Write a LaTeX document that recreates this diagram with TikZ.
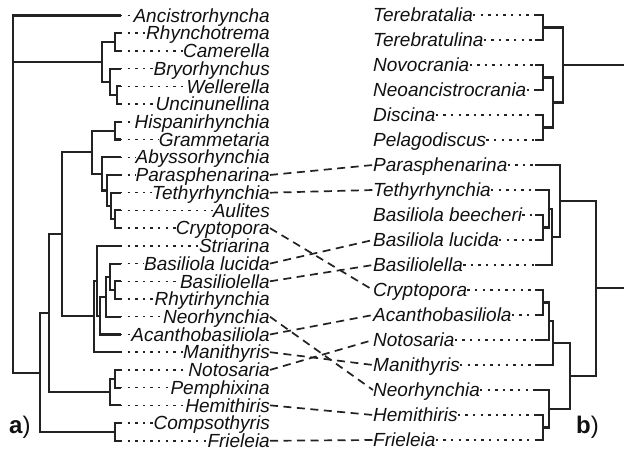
\documentclass[tikz,border=0pt]{standalone}
\usepackage{fontspec}
\setsansfont{Liberation Sans}
\usepackage{xcolor}
\usepackage{tikz}
\usetikzlibrary{calc}
\definecolor{phInk}{HTML}{111111}
\definecolor{phLine}{HTML}{222222}
\tikzset{
  ph diagram/.style={x=1pt, y=-1pt, text=phInk},
  ph tree/.style={draw=phLine, line width=2.1pt, line cap=rect},
  ph leader/.style={draw=phLine, line width=1.5pt, dash pattern=on 2.4pt off 5.2pt},
  ph link/.style={draw=phLine, line width=1.7pt, dash pattern=on 8pt off 5.5pt},
  ph taxon/.style={font=\sffamily\itshape\fontsize{19}{19}\selectfont,
    inner sep=0pt, text height=13.4pt, text depth=0pt},
  ph panel/.style={font=\sffamily\fontsize{24}{24}\selectfont, inner sep=0pt}
}

\begin{document}
\begin{tikzpicture}[ph diagram]
\useasboundingbox[fill=white] (0,0) rectangle (624,450);
\foreach \name [count=\i from 0] in {Ancistrorhyncha,Rhynchotrema,Camerella,
    Bryorhynchus,Wellerella,Uncinunellina,Hispanirhynchia,Grammetaria,
    Abyssorhynchia,Parasphenarina,Tethyrhynchia,Aulites,Cryptopora,Striarina,
    Basiliola lucida,Basiliolella,Rhytirhynchia,Neorhynchia,Acanthobasiliola,
    Manithyris,Notosaria,Pemphixina,Hemithiris,Compsothyris,Frieleia}{
  \coordinate (lt\i) at (120,{15.5+17.72*\i});
  \node[ph taxon, anchor=east] (ll\i) at (270,{15.5+17.72*\i}) {\name};
  \draw[ph leader] (lt\i) -- (ll\i.west);
}
\foreach \name [count=\i from 0] in {Terebratalia,Terebratulina,Novocrania,
    Neoancistrocrania,Discina,Pelagodiscus,Parasphenarina,Tethyrhynchia,
    Basiliola beecheri,Basiliola lucida,Basiliolella,Cryptopora,
    Acanthobasiliola,Notosaria,Manithyris,Neorhynchia,Hemithiris,Frieleia}{
  \coordinate (rt\i) at (536,{15+25*\i});
  \node[ph taxon, anchor=west] (rl\i) at (373,{15+25*\i}) {\name};
  \draw[ph leader] (rl\i.east) -- (rt\i);
}
\coordinate (root) at (13,62);
\coordinate (cA) at (102,62);
\coordinate (rc) at (115,42.08);
\coordinate (bwu) at (110,81.95);
\coordinate (wu) at (117,95.24);
\coordinate (cB) at (40,372.6);
\coordinate (cf) at (115,431.92);
\coordinate (cN) at (49,313.2);
\coordinate (nph) at (110,392.05);
\coordinate (np) at (115,378.76);
\coordinate (cM) at (62,234.4);
\coordinate (cU) at (92,152.3);
\coordinate (hg) at (115,130.68);
\coordinate (aptac) at (102,173.9);
\coordinate (ptac) at (107,190.49);
\coordinate (tac) at (111,205.99);
\coordinate (ac) at (115,219.28);
\coordinate (msan) at (94,316.4);
\coordinate (san) at (97,280.7);
\coordinate (anl) at (100,315.6);
\coordinate (nlbr) at (106,296.8);
\coordinate (lbr) at (110,276.87);
\coordinate (br) at (115,290.16);
\foreach \p/\c in {root/lt0,root/cA,root/cB,cA/rc,cA/bwu,rc/lt1,rc/lt2,
    bwu/lt3,bwu/wu,wu/lt4,wu/lt5,cB/cN,cB/cf,cf/lt23,cf/lt24,cN/cM,cN/nph,
    nph/np,nph/lt22,np/lt20,np/lt21,cM/cU,cM/msan,cU/hg,cU/aptac,hg/lt6,
    hg/lt7,aptac/lt8,aptac/ptac,ptac/lt9,ptac/tac,tac/lt10,tac/ac,ac/lt11,
    ac/lt12,msan/san,msan/lt19,san/lt13,san/anl,anl/nlbr,anl/lt18,
    nlbr/lbr,nlbr/lt17,lbr/lt14,lbr/br,br/lt15,br/lt16}
  \draw[ph tree] (\p) |- (\c);
\coordinate (outgrp) at (563,65);
\coordinate (tt) at (543,27.5);
\coordinate (nd) at (553,102.5);
\coordinate (nn) at (543,77.5);
\coordinate (dp) at (543,127.5);
\coordinate (ingrp) at (596,288.4);
\coordinate (ptb) at (560,200.9);
\coordinate (tblb) at (552,236.9);
\coordinate (tbl) at (549,208.75);
\coordinate (bl) at (543,227.5);
\coordinate (low) at (570,375.9);
\coordinate (canm) at (553,343.1);
\coordinate (can) at (549,321.25);
\coordinate (ca) at (543,302.5);
\coordinate (nhf) at (549,408.75);
\coordinate (hf) at (543,427.5);
\coordinate (eO) at (624,65);
\coordinate (eI) at (624,288.4);
\foreach \p/\c in {outgrp/tt,outgrp/nd,tt/rt0,tt/rt1,nd/nn,nd/dp,nn/rt2,
    nn/rt3,dp/rt4,dp/rt5,ingrp/ptb,ingrp/low,ptb/rt6,ptb/tblb,tblb/tbl,
    tblb/rt10,tbl/rt7,tbl/bl,bl/rt8,bl/rt9,low/canm,low/nhf,canm/can,
    canm/rt14,can/ca,can/rt13,ca/rt11,ca/rt12,nhf/rt15,nhf/hf,hf/rt16,hf/rt17}
  \draw[ph tree] (\p) |- (\c);
\draw[ph tree, line cap=butt] (outgrp) -- (eO);
\draw[ph tree, line cap=butt] (ingrp) -- (eI);
\foreach \a/\b in {9/6,10/7,12/11,14/9,15/10,17/15,18/12,19/14,20/13,22/16,24/17}
  \draw[ph link] (ll\a.east) -- (rl\b.west);
\node[ph panel, anchor=base west] (pa) at (9,433) {\textbf{a})};
\node[ph panel, anchor=base west] (pb) at (576,433) {\textbf{b})};
\end{tikzpicture}
\end{document}
